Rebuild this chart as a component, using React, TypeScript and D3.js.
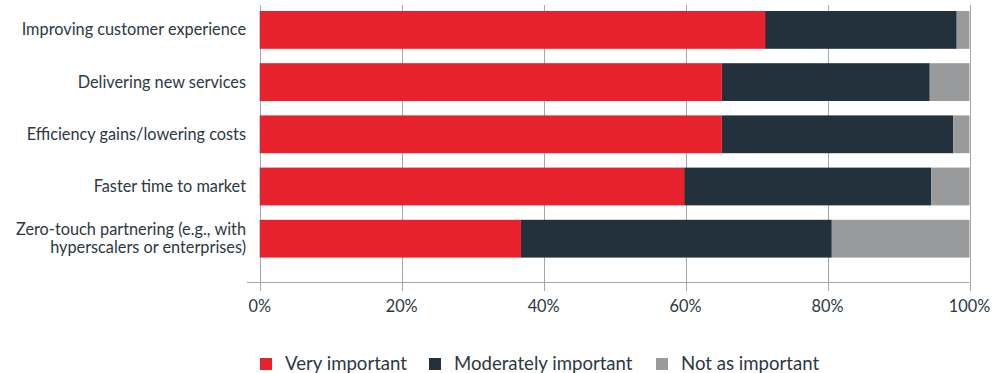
import React from "react";
import * as d3 from "d3";

const categories = [
  ["Improving customer experience"],
  ["Delivering new services"],
  ["Efficiency gains/lowering costs"],
  ["Faster time to market"],
  ["Zero-touch partnering (e.g., with", "hyperscalers or enterprises)"],
];
const seriesNames = ["Very important", "Moderately important", "Not as important"];
const veryImportant = [71.2, 65.1, 65.1, 59.8, 36.8];
const moderatelyImportant = [27.0, 29.3, 32.6, 34.8, 43.8];
const notAsImportant = [1.8, 5.6, 2.3, 5.4, 19.4];
const tickValues = [0, 20, 40, 60, 80, 100];

const colors = ["#e8222d", "#22313b", "#999a9c"];
const textColor = "#2c3842";
const gridColor = "#a3a6aa";
const font = "Lato, 'Open Sans', sans-serif";

const W = 1002;
const H = 373;

export default function App() {
  const rows = categories.map((c, i) => ({
    key: i,
    v0: veryImportant[i],
    v1: moderatelyImportant[i],
    v2: notAsImportant[i],
  }));
  const stacked = d3.stack<any>().keys(["v0", "v1", "v2"])(rows);

  const x = d3.scaleLinear().domain([0, 100]).range([259.7, 969.5]);
  const y = d3
    .scaleBand<number>()
    .domain(rows.map((r) => r.key))
    .range([3.8, 264.8])
    .paddingInner(0.276)
    .paddingOuter(0.138);

  const axisY = 282;
  const gridTop = 5;
  const tickBottom = 291;

  const legendX = [260, 429, 656];

  return (
    <div style={{ position: "absolute", left: 0, top: 0 }}>
      <svg width={W} height={H} style={{ display: "block", background: "#fff" }} fontFamily={font}>
        {/* vertical gridlines */}
        {tickValues.map((t) => (
          <line
            key={"g" + t}
            x1={Math.round(x(t)) + 0.5}
            x2={Math.round(x(t)) + 0.5}
            y1={gridTop}
            y2={tickBottom}
            stroke={gridColor}
            strokeWidth={1}
          />
        ))}
        {/* x axis line */}
        <line x1={247} x2={x(100)} y1={axisY + 0.5} y2={axisY + 0.5} stroke={gridColor} strokeWidth={1} />

        {/* stacked bars */}
        {stacked.map((s, si) => (
          <g key={si} fill={colors[si]}>
            {s.map((d, i) => (
              <rect
                key={i}
                x={x(d[0])}
                y={y(rows[i].key)}
                width={x(d[1]) - x(d[0])}
                height={y.bandwidth()}
              />
            ))}
          </g>
        ))}

        {/* category labels */}
        {categories.map((lines, i) => {
          const cy = (y(i) as number) + y.bandwidth() / 2;
          const lh = 17.7;
          const start = cy - ((lines.length - 1) * lh) / 2;
          return (
            <text key={i} textAnchor="end" fontSize={16.3} fill={textColor}>
              {lines.map((l, li) => (
                <tspan key={li} x={246} y={start + li * lh + 5.5}>
                  {l}
                </tspan>
              ))}
            </text>
          );
        })}

        {/* tick labels */}
        {tickValues.map((t) => (
          <text key={"t" + t} x={x(t)} y={312} textAnchor="middle" fontSize={16.3} fill={textColor}>
            {t + "%"}
          </text>
        ))}

        {/* legend */}
        {seriesNames.map((n, i) => (
          <g key={n} transform={`translate(${legendX[i]},358)`}>
            <rect x={0} y={0} width={12} height={12} fill={colors[i]} />
            <text x={25} y={12} fontSize={18.6} fill={textColor}>
              {n}
            </text>
          </g>
        ))}
      </svg>
    </div>
  );
}
